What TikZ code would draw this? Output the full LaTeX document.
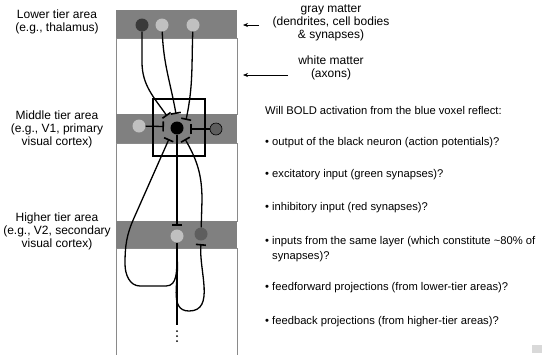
\documentclass[tikz,border=0pt]{standalone}
\usepackage{fontspec}
\setmainfont{Liberation Sans}
\usetikzlibrary{arrows.meta}
\definecolor{bandgray}{HTML}{808080}
\definecolor{edgegray}{HTML}{8A8A8A}
\definecolor{lightcell}{HTML}{C0C0C0}
\definecolor{darkcell}{HTML}{3A3A3A}
\definecolor{midcell}{HTML}{5E5E5E}

\begin{document}
\begin{tikzpicture}[x=1pt, y=1pt,
    band/.style={fill=bandgray},
    wmatter/.style={draw=edgegray, fill=white, line width=0.8pt},
    cell/.style={circle, inner sep=0pt, minimum size=13pt},
    axon/.style={line width=1.3pt},
    syn/.style={axon, -{Bar[width=10pt, line width=1.6pt]}},
    pointer/.style={line width=0.6pt, -{Stealth[length=5pt, width=4pt]}},
    lbl/.style={font=\fontsize{12}{13}\selectfont, align=center, inner sep=0pt},
    txt/.style={font=\fontsize{11.2}{15}\selectfont, align=left, anchor=west, inner sep=0pt}]
    \useasboundingbox (0,0) rectangle (545,-354);

    % --- Cortical column: gray matter bands, white matter between ---
    \fill[band] (116,-10) rectangle (237,-38);
    \draw[wmatter] (116,-38) rectangle (237,-114);
    \fill[band] (116,-114) rectangle (237,-143);
    \draw[wmatter] (116,-143) rectangle (237,-221);
    \fill[band] (116,-221) rectangle (237,-248);
    \draw[wmatter] (116,-248) rectangle (237,-362);

    % --- Cell bodies ---
    % lower tier (thalamus)
    \node[cell, fill=darkcell] (thalD) at (142,-25) {};
    \node[cell, fill=lightcell] (thalA) at (162,-25) {};
    \node[cell, fill=lightcell] (thalB) at (193,-25) {};
    % middle tier (V1)
    \node[cell, fill=lightcell] (vOneL) at (139,-126) {};
    \node[cell, fill=black] (vOneN) at (177,-128) {};
    \node[cell, fill=midcell, draw=black, line width=0.6pt, minimum size=12pt] (vOneI) at (216,-129) {};
    % higher tier (V2)
    \node[cell, fill=lightcell] (vTwoL) at (177,-236) {};
    \node[cell, fill=midcell] (vTwoD) at (201,-234) {};

    % --- Synapse positions ---
    \coordinate (synL) at (164,-126.5);
    \coordinate (synTL) at (167,-116);
    \coordinate (synT) at (176,-114);
    \coordinate (synTR) at (186,-120);
    \coordinate (synR) at (190,-129);
    \coordinate (synBR) at (185,-139);
    \coordinate (synBL) at (169,-139);
    \coordinate (synFF) at (177,-226);
    \coordinate (synFB) at (201,-244);
    \coordinate (split) at (177,-258);
    \coordinate (axEnd) at (177,-325);

    % --- Voxel ---
    \draw[line width=1.5pt] (153,-99) rectangle (205,-156);

    % --- Axons ---
    % feedforward from the lower tier
    \draw[syn] (thalD) -- (142,-62) to[out=-90,in=125] (synTL);
    \draw[syn] (thalA) to[out=-88,in=100] (synT);
    \draw[syn] (thalB) to[out=-92,in=78] (synTR);
    % same layer
    \draw[syn] (vOneL) -- (synL);
    \draw[syn] (vOneI) -- (synR);
    % V1 -> V2
    \draw[syn] (vOneN) -- (synFF);
    \draw[axon] (vTwoL) -- (axEnd);
    \foreach \y in {331,336,341}
        \fill (177,-\y) circle (1pt);
    % feedback from V2
    \draw[syn] (vTwoD) -- (202,-200) to[out=90,in=-60] (synBR);
    \draw[syn] (split) to[out=-92,in=0] (166,-286) -- (140,-286)
        to[out=180,in=-90] (125,-264) to[out=90,in=-114] (134,-218) -- (synBL);
    \draw[syn] (split) to[out=-82,in=180] (189,-311) to[out=0,in=-95] (synFB);

    % --- Labels ---
    \node[lbl] (lowLbl) at (57,-21.5) {Lower tier area\\(e.g., thalamus)};
    \node[lbl] (midLbl) at (57,-129) {Middle tier area\\(e.g., V1, primary\\visual cortex)};
    \node[lbl] (highLbl) at (57,-231) {Higher tier area\\(e.g., V2, secondary\\visual cortex)};

    \node[lbl] (gmLbl) at (331,-23) {gray matter\\(dendrites, cell bodies\\\& synapses)};
    \node[lbl] (wmLbl) at (331,-68) {white matter\\(axons)};
    \coordinate (gmTail) at (259,-25);
    \coordinate (gmTip) at (243,-25);
    \coordinate (wmTail) at (288,-75);
    \coordinate (wmTip) at (243,-75);
    \draw[pointer] (gmTail) -- (gmTip);
    \draw[pointer] (wmTail) -- (wmTip);

    % --- Questions ---
    \node[txt] (question) at (265,-110) {Will BOLD activation from the blue voxel reflect:};
    \node[txt] (qOut) at (265,-143) {\textbullet\ output of the black neuron (action potentials)?};
    \node[txt] (qExc) at (265,-175) {\textbullet\ excitatory input (green synapses)?};
    \node[txt] (qInh) at (265,-208) {\textbullet\ inhibitory input (red synapses)?};
    \node[txt] (qLoc) at (265,-249.5) {\textbullet\ inputs from the same layer (which constitute \textasciitilde80\% of\\\hphantom{\textbullet\ }synapses)?};
    \node[txt] (qFF) at (265,-288) {\textbullet\ feedforward projections (from lower-tier areas)?};
    \node[txt] (qFB) at (265,-322) {\textbullet\ feedback projections (from higher-tier areas)?};

    % sound icon
    \fill[gray!30] (532,-345) rectangle (542,-353);
\end{tikzpicture}
\end{document}
